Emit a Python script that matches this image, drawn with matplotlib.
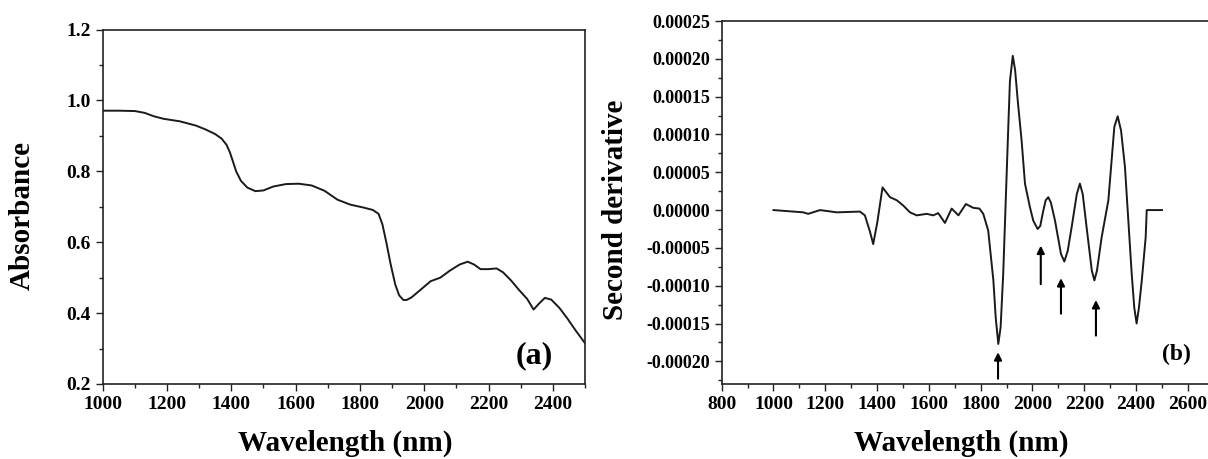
import numpy as np
import matplotlib
matplotlib.use('Agg')
import matplotlib.pyplot as plt
from matplotlib.ticker import MultipleLocator, FuncFormatter

plt.rcParams['font.family'] = ['Liberation Serif', 'DejaVu Serif']
plt.rcParams['font.weight'] = 'bold'

# (a) 吸光度スペクトル
wl_a = [1000, 1050, 1100, 1130, 1160, 1190, 1240, 1290, 1320, 1350, 1370, 1385,
        1395, 1405, 1415, 1430, 1450, 1475, 1500, 1530, 1570, 1610, 1650, 1690,
        1730, 1770, 1810, 1840, 1858, 1870, 1882, 1895, 1910, 1922, 1935, 1945,
        1960, 1990, 2020, 2050, 2080, 2110, 2135, 2155, 2175, 2200, 2225, 2245,
        2270, 2295, 2320, 2340, 2355, 2375, 2395, 2420, 2445, 2470, 2500]
absorbance = [0.971, 0.971, 0.970, 0.965, 0.955, 0.948, 0.941, 0.929, 0.918,
              0.905, 0.892, 0.875, 0.855, 0.828, 0.800, 0.773, 0.754, 0.744,
              0.746, 0.757, 0.764, 0.765, 0.760, 0.745, 0.720, 0.706, 0.698,
              0.691, 0.680, 0.650, 0.600, 0.540, 0.480, 0.450, 0.437, 0.437,
              0.444, 0.467, 0.490, 0.500, 0.520, 0.537, 0.545, 0.537, 0.524,
              0.524, 0.526, 0.515, 0.492, 0.465, 0.440, 0.410, 0.425, 0.443,
              0.438, 0.415, 0.385, 0.352, 0.315]

# (b) 二次微分スペクトル
wl_b = [1000, 1115, 1134, 1180, 1244, 1334, 1353, 1373, 1385, 1401, 1421, 1450,
        1476, 1501, 1527, 1553, 1592, 1617, 1636, 1662, 1688, 1714, 1743, 1771,
        1795, 1810, 1829, 1849, 1858, 1868, 1877, 1887, 1897, 1907, 1913, 1924,
        1933, 1943, 1958, 1971, 1990, 2003, 2020, 2030, 2041, 2051, 2061, 2071,
        2087, 2110, 2123, 2136, 2151, 2171, 2183, 2194, 2209, 2229, 2239, 2249,
        2267, 2293, 2316, 2329, 2342, 2357, 2383, 2393, 2402, 2411, 2422, 2437,
        2441, 2500]
second_deriv = [0.0, -0.000003, -0.000005, 0.0, -0.000003, -0.000002, -0.000007,
                -0.000029, -0.000045, -0.000016, 0.000030, 0.000017, 0.000013,
                0.000006, -0.000003, -0.000007, -0.000005, -0.000007, -0.000004,
                -0.000017, 0.000002, -0.000007, 0.000008, 0.000003, 0.000002,
                -0.000005, -0.000027, -0.000093, -0.000142, -0.000177, -0.000155,
                -0.000084, 0.000015, 0.000114, 0.000171, 0.000204, 0.000185,
                0.000145, 0.000092, 0.000035, 0.000004, -0.000014, -0.000025,
                -0.000021, -0.000002, 0.000013, 0.000017, 0.000010, -0.000014,
                -0.000058, -0.000068, -0.000054, -0.000023, 0.000021, 0.000035,
                0.000021, -0.000023, -0.000080, -0.000093, -0.000080, -0.000036,
                0.000013, 0.000110, 0.000124, 0.000105, 0.000057, -0.000084,
                -0.000129, -0.000150, -0.000129, -0.000093, -0.000036, 0.0, 0.0]

# 矢印 (波長, 先端, 根元)
arrow_x = [1867, 2032, 2110, 2245]
arrow_tip = [-0.000188, -0.000047, -0.000090, -0.000119]
arrow_tail = [-0.000223, -0.000098, -0.000137, -0.000166]

fig = plt.figure(figsize=(12.08, 4.59), dpi=100)

def style_axes(ax):
    ax.tick_params(which='both', direction='out', labelsize=14, width=1.0, color='#222222')
    ax.tick_params(which='major', length=5)
    ax.tick_params(which='minor', length=3)
    for s in ax.spines.values():
        s.set_linewidth(1.2)
        s.set_color('#222222')

# 左のグラフ
ax1 = fig.add_axes([0.085, 0.1634, 0.3993, 0.7723])
ax1.plot(wl_a, absorbance, color='#1a1a1a', lw=1.4)
ax1.set_xlim(1000, 2500)
ax1.set_ylim(0.2, 1.2)
ax1.xaxis.set_major_locator(MultipleLocator(200))
ax1.xaxis.set_minor_locator(MultipleLocator(100))
ax1.yaxis.set_major_locator(MultipleLocator(0.2))
ax1.yaxis.set_minor_locator(MultipleLocator(0.1))
ax1.yaxis.set_major_formatter(FuncFormatter(lambda v, p: '%.1f' % v))
style_axes(ax1)
ax1.set_xlabel('Wavelength (nm)', fontsize=21, fontweight='bold')
ax1.set_ylabel('Absorbance', fontsize=21, fontweight='bold')
ax1.xaxis.set_label_coords(0.502, -0.128)
ax1.yaxis.set_label_coords(-0.138, 0.474)
ax1.text(2341, 0.279, '(a)', fontsize=23, fontweight='bold', ha='center', va='center')

# 右のグラフ
ax2 = fig.add_axes([0.5974, 0.1634, 0.4074, 0.7908])
ax2.plot(wl_b, second_deriv, color='#1a1a1a', lw=1.4)
ax2.set_xlim(800, 2700)
ax2.set_ylim(-0.00023, 0.00025)
ax2.xaxis.set_major_locator(MultipleLocator(200))
ax2.xaxis.set_minor_locator(MultipleLocator(100))
ax2.yaxis.set_major_locator(MultipleLocator(0.00005))
ax2.yaxis.set_minor_locator(MultipleLocator(0.000025))
ax2.yaxis.set_major_formatter(FuncFormatter(lambda v, p: '%.5f' % (round(v * 1e5) / 1e5 + 0.0)))
ax2.xaxis.set_major_formatter(FuncFormatter(lambda v, p: '%d' % v if v <= 2600 else ''))
style_axes(ax2)
ax2.tick_params(axis='y', labelsize=13)
ax2.spines['right'].set_visible(False)
ax2.set_xlabel('Wavelength (nm)', fontsize=21, fontweight='bold')
ax2.set_ylabel('Second derivative', fontsize=21, fontweight='bold')
ax2.xaxis.set_label_coords(0.486, -0.125)
ax2.yaxis.set_label_coords(-0.188, 0.479)
ax2.text(2554, -0.000191, '(b)', fontsize=17, fontweight='bold', ha='center', va='center')

for x, tip, tail in zip(arrow_x, arrow_tip, arrow_tail):
    ax2.annotate('', xy=(x, tip), xytext=(x, tail),
                 arrowprops=dict(arrowstyle='-|>', color='black', lw=1.5,
                                 mutation_scale=11, shrinkA=0, shrinkB=0))

plt.savefig('out.png', dpi=100)
